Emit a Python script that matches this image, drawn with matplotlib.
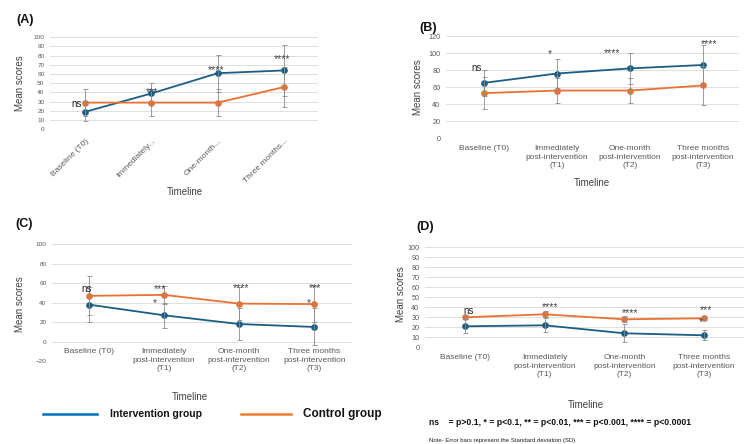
import matplotlib
matplotlib.use("Agg")
import matplotlib.pyplot as plt
from matplotlib.lines import Line2D
import numpy as np

plt.rcParams['font.family'] = ['Liberation Sans', 'DejaVu Sans']

# Data ------------------------------------------------------------------

labels_full = ["Baseline (T0)",
               "Immediately\npost-intervention\n(T1)",
               "One-month\npost-intervention\n(T2)",
               "Three months\npost-intervention\n(T3)"]
labels_short = ["Baseline (T0)", "Immediately...", "One-month...", "Three months..."]

# panel A
a_int = [19, 39, 61, 64]
a_int_sd = [10.5, 11, 20, 28]
a_ctl = [29, 29, 29, 46]
a_ctl_sd = [15, 15, 14.5, 22]
a_sig = [("ns", -0.13, 28), ("***", 1.01, 41), ("****", 1.98, 64), ("****", 2.97, 76)]

# panel B
b_int = [65, 76, 82, 86]
b_int_sd = [15, 17, 18, 23]
b_ctl = [53, 56, 56, 62]
b_ctl_sd = [19, 15, 15, 23]
b_sig = [("ns", -0.1, 82), ("*", 0.9, 99), ("****", 1.75, 100), ("****", 3.08, 110)]

# panel C
c_int = [38, 27, 18, 15]
c_int_sd = [18, 13, 16, 19]
c_ctl = [47, 48, 39, 38.5]
c_ctl_sd = [20, 9, 17, 18.5]
c_sig = [("ns", -0.03, 54), ("***", 0.94, 54), ("*", 0.88, 40),
         ("****", 2.02, 55), ("***", 3.01, 55), ("*", 2.93, 40)]

# panel D
d_int = [21, 22, 14, 12]
d_int_sd = [7, 7, 9, 5]
d_ctl = [30, 33, 28, 29]
d_ctl_sd = [2, 3, 3, 2]
d_sig = [("ns", 0.05, 36), ("****", 1.07, 40), ("****", 2.07, 34),
         ("***", 3.02, 37), ("*", 2.96, 25)]

col_int = "#1B5E84"
col_ctl = "#E97132"
col_err = "#8C8C8C"
col_grid = "#D9D9D9"
col_tick = "#595959"

W, H = 752, 444
fig = plt.figure(figsize=(W / 100, H / 100), dpi=100)


def box(x0, y0, x1, y1):
    # pixel box -> figure fraction
    return [x0 / W, 1 - y1 / H, (x1 - x0) / W, (y1 - y0) / H]


def ftext(x, y, s, **kw):
    fig.text(x / W, 1 - y / H, s, **kw)


def panel(rect, xlim, ylim, step, tick_fs, intv, intv_sd, ctl, ctl_sd, sig,
          xlabels, rotate=False, zero_axis=False):
    ax = fig.add_axes(rect)
    x = np.arange(len(intv))
    ax.plot(x, intv, color=col_int, lw=1.3, marker="o", ms=3.8, zorder=3)
    ax.plot(x, ctl, color=col_ctl, lw=1.3, marker="o", ms=3.8, zorder=3)
    ax.errorbar(x, intv, yerr=intv_sd, fmt="none", ecolor=col_err,
                elinewidth=0.6, capsize=1.8, capthick=0.6, zorder=4)
    ax.errorbar(x, ctl, yerr=ctl_sd, fmt="none", ecolor=col_err,
                elinewidth=0.6, capsize=1.8, capthick=0.6, zorder=4)
    for s, sx, sy in sig:
        if s == "ns":
            ax.text(sx, sy, s, fontsize=7, color="#222222", ha="center", va="center", zorder=5)
        else:
            ax.text(sx, sy, s, fontsize=7.5, color="#404040", ha="center", va="center", zorder=5)
    ax.set_xlim(*xlim)
    ax.set_ylim(*ylim)
    ax.set_yticks(np.arange(ylim[0], ylim[1] + 1, step))
    ax.yaxis.grid(True, color=col_grid, lw=0.6)
    ax.set_axisbelow(True)
    for sp in ax.spines.values():
        sp.set_visible(False)
    if zero_axis:
        ax.spines["bottom"].set_position(("data", 0))
    ax.tick_params(axis="both", length=0, colors=col_tick)
    ax.tick_params(axis="y", labelsize=tick_fs, pad=4)
    ax.set_xticks(x)
    if rotate:
        ax.set_xticklabels(xlabels, rotation=45, ha="right", va="top",
                           rotation_mode="anchor", fontsize=6)
        ax.tick_params(axis="x", pad=6)
    else:
        ax.set_xticklabels(xlabels, fontsize=6, linespacing=1.3)
        ax.tick_params(axis="x", pad=5)
    return ax


# (A)
panel(box(50, 37.3, 318, 129.3), (-0.53, 3.51), (0, 100), 10, 4.6,
      a_int, a_int_sd, a_ctl, a_ctl_sd, a_sig, labels_short, rotate=True)
# (B)
panel(box(446, 36, 739, 138.3), (-0.52, 3.49), (0, 120), 20, 5.2,
      b_int, b_int_sd, b_ctl, b_ctl_sd, b_sig, labels_full)
# (C)
panel(box(52, 244.3, 352, 361), (-0.49, 3.5), (-20, 100), 20, 4.6,
      c_int, c_int_sd, c_ctl, c_ctl_sd, c_sig, labels_full, zero_axis=True)
# (D)
panel(box(425, 247.3, 744, 347.3), (-0.5, 3.5), (0, 100), 10, 5.2,
      d_int, d_int_sd, d_ctl, d_ctl_sd, d_sig, labels_full)

# panel letters
for s, px, py in [("(A)", 16, 20.5), ("(B)", 419, 28), ("(C)", 15, 224), ("(D)", 416, 227)]:
    ftext(px, py, s, fontsize=9, fontweight="bold", va="center", color="#111111")

# axis titles
for px, py in [(185, 191.5), (592, 183), (190, 397), (586, 405)]:
    ftext(px, py, "Timeline", fontsize=7, color="#404040", ha="center", va="center")
for px, py in [(20, 83), (418, 87), (20, 304), (401, 294)]:
    ftext(px, py, "Mean scores", fontsize=7, color="#404040", ha="center", va="center",
          rotation=90)

# legend
fig.add_artist(Line2D([43 / W, 97 / W], [1 - 414 / H] * 2, color="#0070C0", lw=1.8))
fig.add_artist(Line2D([241 / W, 291 / W], [1 - 414 / H] * 2, color="#ED7D31", lw=1.8))
ftext(110, 414, "Intervention group", fontsize=7.5, fontweight="bold", va="center",
      color="#111111")
ftext(303, 414, "Control group", fontsize=8.5, fontweight="bold", va="center",
      color="#111111")

# footnotes
ftext(429, 422, "ns    = p>0.1, * = p<0.1, ** = p<0.01, *** = p<0.001, **** = p<0.0001",
      fontsize=6.2, fontweight="bold", va="center", color="#111111")
ftext(429, 440, "Note- Error bars represent the Standard deviation (SD)",
      fontsize=4.3, va="center", color="#222222")

fig.savefig("out.png", dpi=100)
